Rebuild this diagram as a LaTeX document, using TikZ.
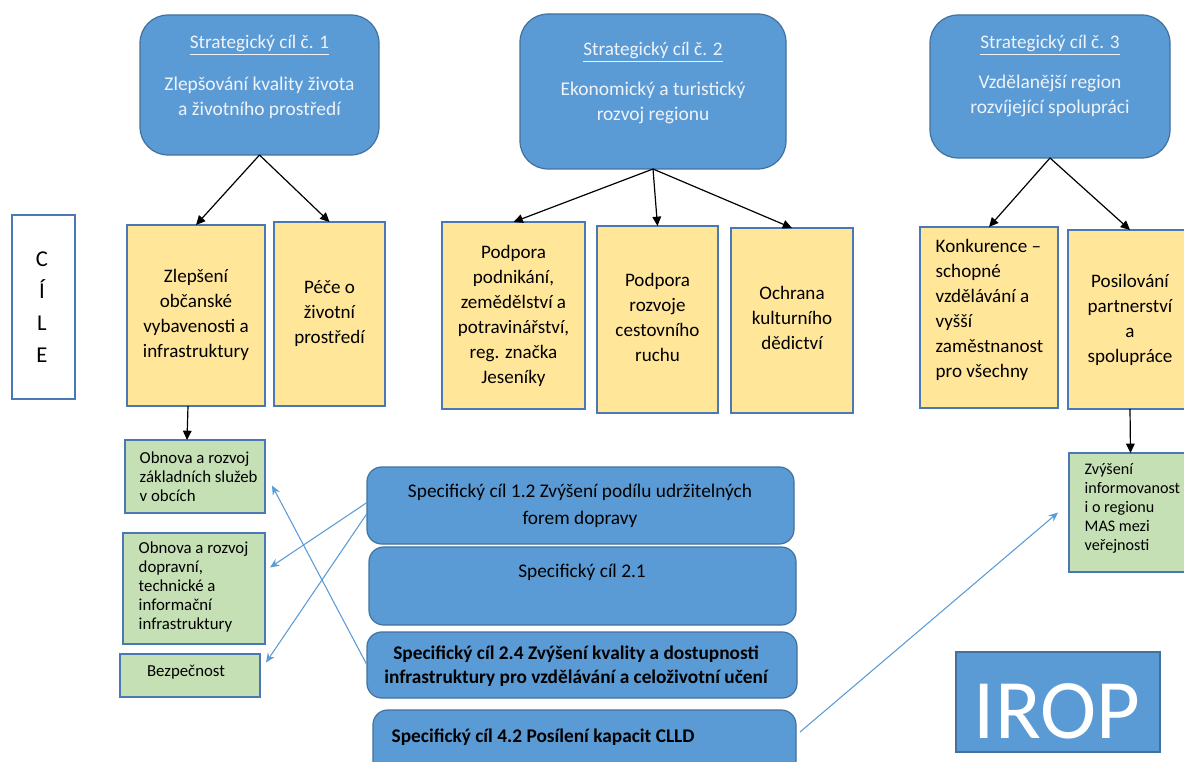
\documentclass[tikz,border=0pt]{standalone}
\usepackage{fontspec}
\setmainfont{Carlito}
\usetikzlibrary{arrows.meta,fit,calc}
\definecolor{bluef}{HTML}{5B9BD5}
\definecolor{blued}{HTML}{41719C}
\definecolor{yelf}{HTML}{FFE699}
\definecolor{grnf}{HTML}{C5E0B4}
\definecolor{bord}{HTML}{4A78B4}
\definecolor{titlec}{HTML}{EEF3FA}
\definecolor{linkc}{HTML}{5B9BD5}
\tikzset{
  boxbase/.style={inner sep=0pt, outer sep=0pt, line width=0.9pt},
  scbox/.style={boxbase, draw=blued, fill=bluef, rounded corners=21pt},
  spbox/.style={boxbase, draw=blued, fill=bluef, rounded corners=11pt},
  yelbox/.style={boxbase, draw=bord, fill=yelf},
  grnbox/.style={boxbase, draw=bord, fill=grnf},
  cilebox/.style={boxbase, draw=bord, fill=white},
  iropbox/.style={boxbase, draw=blued, fill=bluef},
  sctitle/.style={font=\fontsize{14.4}{17}\selectfont, text=titlec},
  scbody/.style={font=\fontsize{14.6}{18.75}\selectfont, text=titlec, align=center},
  ytext/.style={font=\fontsize{14.3}{18.75}\selectfont, align=center},
  ytextl/.style={font=\fontsize{14.3}{18.75}\selectfont, align=left},
  gtext/.style={font=\fontsize{12.6}{14.25}\selectfont, align=left},
  btext/.style={font=\fontsize{14.5}{20.25}\selectfont, align=center},
  bbtext/.style={font=\bfseries\fontsize{14.5}{18}\selectfont, align=center},
  blackarrow/.style={draw=black, line width=0.9pt, -{Triangle[length=7pt,width=6.5pt]}},
  bluearrow/.style={draw=linkc, line width=0.8pt, -{Stealth[length=7pt,width=6pt]}},
}
\begin{document}
\begin{tikzpicture}[x=0.75pt,y=-0.75pt]
\useasboundingbox (0,0) rectangle (1184,762);

% strategic goals
\node[scbox, fit={(140,15)(379,155)}] (sc1) {};
\node[scbox, fit={(520,14)(786,169)}] (sc2) {};
\node[scbox, fit={(930,15)(1170,158)}] (sc3) {};
\node[sctitle] (sc1t) at (259.5,45) {\underline{Strategický cíl č. 1}};
\node[scbody] (sc1b) at (259.5,97.5) {Zlepšování kvality života\\a životního prostředí};
\node[sctitle] (sc2t) at (653,52) {\underline{Strategický cíl č. 2}};
\node[scbody] (sc2b) at (653,102.5) {Ekonomický a turistický\\rozvoj regionu};
\node[sctitle] (sc3t) at (1050,45) {\underline{Strategický cíl č. 3}};
\node[scbody] (sc3b) at (1050,95.5) {Vzdělanější region\\rozvíjející spolupráci};

% CILE
\node[cilebox, fit={(12,215)(75,399)}] (cile) {};
\node[font=\fontsize{17}{24}\selectfont, align=center] (cilet) at (42,307.5) {C\\Í\\L\\E};

% yellow boxes
\node[yelbox, fit={(127,225)(265,406)}] (y1) {};
\node[yelbox, fit={(274,222)(385,406)}] (y2) {};
\node[yelbox, fit={(442,222)(585,409)}] (y3) {};
\node[yelbox, fit={(597,226)(718,413)}] (y4) {};
\node[yelbox, fit={(731,228)(853,413)}] (y5) {};
\node[yelbox, fit={(920,227)(1058,408)}] (y6) {};
\node[yelbox, fit={(1068,230)(1192,409)}] (y7) {};
\node[ytext] (y1t) at (196,314.5) {Zlepšení\\občanské\\vybavenosti a\\infrastruktury};
\node[ytext] (y2t) at (329.5,313.5) {Péče o\\životní\\prostředí};
\node[ytext] (y3t) at (513.5,316) {Podpora\\podnikání,\\zemědělství a\\potravinářství,\\reg. značka\\Jeseníky};
\node[ytext] (y4t) at (657.5,317) {Podpora\\rozvoje\\cestovního\\ruchu};
\node[ytext] (y5t) at (792,318) {Ochrana\\kulturního\\dědictví};
\node[ytextl, anchor=west] (y6t) at (931,310) {Konkurence –\\schopné\\vzdělávání a\\vyšší\\zaměstnanost\\pro všechny};
\node[ytext] (y7t) at (1130,320) {Posilování\\partnerství\\a\\spolupráce};

% green boxes
\node[grnbox, fit={(125,440)(265,513)}] (g1) {};
\node[grnbox, fit={(123,533)(265,644)}] (g2) {};
\node[grnbox, fit={(120,654)(260,697)}] (g3) {};
\node[grnbox, fit={(1069,453)(1192,572)}] (g4) {};
\node[gtext, anchor=west] (g1t) at (135,476.5) {Obnova a rozvoj\\základních služeb\\v obcích};
\node[gtext, anchor=west] (g2t) at (134,587) {Obnova a rozvoj\\dopravní,\\technické a\\informační\\infrastruktury};
\node[gtext] (g3t) at (186,672) {Bezpečnost};
\node[gtext, anchor=west, font=\fontsize{12.1}{14.25}\selectfont] (g4t) at (1080,508.5) {Zvýšení\\informovanost\\i o regionu\\MAS mezi\\veřejnosti};

% specific goals
\node[spbox, fit={(367,467)(794,544)}] (b1) {};
\node[spbox, fit={(369,547)(796,625)}] (b2) {};
\node[spbox, fit={(367,632)(797,698)}] (b3) {};
\node[spbox, fit={(373,710)(796,778)}] (b4) {};
\node[btext] (b1t) at (580,505.5) {Specifický cíl 1.2 Zvýšení podílu udržitelných\\forem dopravy};
\node[btext] (b2t) at (582,572) {Specifický cíl 2.1};
\node[bbtext] (b3t) at (576,666) {Specifický cíl 2.4 Zvýšení kvality a dostupnosti\\infrastruktury pro vzdělávání a celoživotní učení};
\node[bbtext, anchor=west] (b4t) at (387,737) {Specifický cíl 4.2 Posílení kapacit CLLD};

% IROP
\node[iropbox, fit={(956,652)(1160,752)}] (irop) {};
\node[font=\fontsize{63.5}{64}\selectfont, text=white] (iropt) at (1057,711) {IROP};

% black arrows
\draw[blackarrow] (sc1.south) -- (y1.north);
\draw[blackarrow] (sc1.south) -- (y2.north);
\draw[blackarrow] (sc2.south) -- (y3.north);
\draw[blackarrow] (sc2.south) -- (y4.north);
\draw[blackarrow] (sc2.south) -- (y5.north);
\draw[blackarrow] (sc3.south) -- (y6.north);
\draw[blackarrow] (sc3.south) -- (y7.north);
\draw[blackarrow] ([xshift=-6pt]y1.south) -- ([xshift=-6pt]g1.north);
\draw[blackarrow] (y7.south) -- (g4.north);

% blue links
\draw[bluearrow] ([shift={(0,-3)}]b1.west) -- ([shift={(5,-21)}]g2.east);
\draw[bluearrow] ([shift={(0,8)}]b1.west) -- ([shift={(6,-13)}]g3.east);
\draw[bluearrow] (b3.west) -- ([shift={(7,9)}]g1.east);
\draw[bluearrow] ([shift={(4,-12)}]b4.east) -- ([shift={(-11,0)}]g4.west);
\end{tikzpicture}
\end{document}
